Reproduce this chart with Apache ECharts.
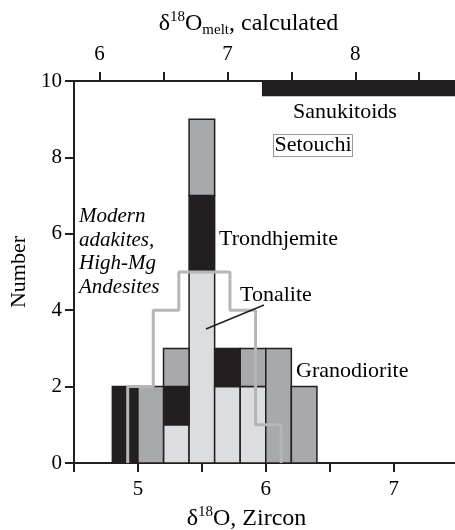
<!DOCTYPE html>
<html>
<head>
<meta charset="utf-8">
<script src="https://cdn.jsdelivr.net/npm/echarts@6.0.0/dist/echarts.min.js"></script>
<style>
  html, body { margin: 0; padding: 0; background: #fff; }
  #main { width: 455px; height: 530px; }
</style>
</head>
<body>
<div id="main"></div>
<script>
  // zircon histogram bins (0.2 wide), stacked: tonalite, trondhjemite, granodiorite
  const binStarts = [4.8, 5.0, 5.2, 5.4, 5.6, 5.8, 6.0, 6.2];
  const binWidth = 0.2;
  const tonalite = [0, 0, 1, 5, 2, 2, 0, 0];
  const trondhjemite = [2, 0, 1, 2, 1, 0, 0, 0];
  const granodiorite = [0, 2, 1, 2, 0, 1, 3, 2];

  // modern adakites / high-Mg andesites outline histogram
  const adakiteEdges = [4.92, 5.12, 5.32, 5.52, 5.72, 5.92, 6.12];
  const adakiteCounts = [2, 4, 5, 5, 4, 1];

  // sanukitoids range (melt scale) and its band height
  const sanukitoidMelt = [7.27, 8.78];
  const sanukitoidBand = [9.6, 10];

  const zirconTicks = [4.5, 5, 5.5, 6, 6.5, 7];
  const zirconLabels = [5, 6, 7];
  const meltTicks = [6, 6.5, 7, 7.5, 8, 8.5];
  const meltLabels = [6, 7, 8];

  const FONT = '"Liberation Serif", "DejaVu Serif", serif';
  const INK = '#231f20';

  // build stacked segments [x0, x1, y0, y1]
  const groups = [tonalite, trondhjemite, granodiorite];
  const base = binStarts.map(() => 0);
  const segs = groups.map(vals => {
    const out = [];
    vals.forEach((v, i) => {
      if (v > 0) out.push([binStarts[i], binStarts[i] + binWidth, base[i], base[i] + v]);
      base[i] += v;
    });
    return out;
  });

  const adakiteLine = [[adakiteEdges[0], 0]];
  adakiteCounts.forEach((c, i) => {
    adakiteLine.push([adakiteEdges[i], c]);
    adakiteLine.push([adakiteEdges[i + 1], c]);
  });
  adakiteLine.push([adakiteEdges[adakiteEdges.length - 1], 0]);

  function renderRect(params, api) {
    const p0 = api.coord([api.value(0), api.value(2)]);
    const p1 = api.coord([api.value(1), api.value(3)]);
    return {
      type: 'rect',
      shape: { x: p0[0], y: p1[1], width: p1[0] - p0[0], height: p0[1] - p1[1] },
      style: { fill: api.visual('color'), stroke: INK, lineWidth: 1.5 }
    };
  }

  const rich = {
    a: { fontFamily: FONT, fontSize: 24, color: '#000', lineHeight: 28 },
    sup: { fontFamily: FONT, fontSize: 15, color: '#000', lineHeight: 15, verticalAlign: 'top' },
    sub: { fontFamily: FONT, fontSize: 15, color: '#000', lineHeight: 15, verticalAlign: 'bottom' }
  };

  const axisCommon = {
    type: 'value',
    splitLine: { show: false },
    axisLine: { show: true, onZero: false, lineStyle: { color: INK, width: 2 } },
    axisTick: { show: true, inside: false, length: 9, lineStyle: { color: INK, width: 2 } },
    axisLabel: { fontFamily: FONT, fontSize: 21, color: '#000' }
  };

  const chart = echarts.init(document.getElementById('main'));
  chart.setOption({
    animation: false,
    grid: { left: 74, right: 0, top: 81, bottom: 67, outerBoundsMode: 'none' },
    xAxis: [
      Object.assign({}, axisCommon, {
        position: 'bottom', min: 4.5, max: 7.48,
        name: '{a|δ}{sup|18}{a|O, Zircon}',
        nameLocation: 'middle', nameGap: 41,
        nameTextStyle: { rich: rich, padding: [0, 36, 0, 0] },
        axisTick: Object.assign({}, axisCommon.axisTick, { customValues: zirconTicks }),
        axisLabel: Object.assign({}, axisCommon.axisLabel, { customValues: zirconLabels, margin: 16 })
      }),
      Object.assign({}, axisCommon, {
        position: 'top', min: 5.8, max: 8.78,
        name: '{a|δ}{sup|18}{a|O}{sub|melt}{a|, calculated}',
        nameLocation: 'middle', nameGap: 43,
        nameTextStyle: { rich: rich, padding: [0, 32, 0, 0] },
        axisTick: Object.assign({}, axisCommon.axisTick, { customValues: meltTicks }),
        axisLabel: Object.assign({}, axisCommon.axisLabel, { customValues: meltLabels, margin: 16 })
      })
    ],
    yAxis: Object.assign({}, axisCommon, {
      min: 0, max: 10, interval: 2,
      name: 'Number', nameLocation: 'middle', nameGap: 40,
      nameTextStyle: { fontFamily: FONT, fontSize: 22, color: '#000' },
      axisLabel: Object.assign({}, axisCommon.axisLabel, { margin: 12 })
    }),
    series: [
      { type: 'custom', name: 'Tonalite', color: '#dcddde', renderItem: renderRect,
        encode: { x: [0, 1], y: [2, 3] }, data: segs[0], z: 2 },
      { type: 'custom', name: 'Trondhjemite', color: INK, renderItem: renderRect,
        encode: { x: [0, 1], y: [2, 3] }, data: segs[1], z: 2 },
      { type: 'custom', name: 'Granodiorite', color: '#a7a9ac', renderItem: renderRect,
        encode: { x: [0, 1], y: [2, 3] }, data: segs[2], z: 2 },
      { type: 'line', name: 'Modern adakites', data: adakiteLine, symbol: 'none',
        lineStyle: { color: '#b4b6b8', width: 3 }, z: 3 },
      { type: 'custom', name: 'Sanukitoids', xAxisIndex: 1, color: INK,
        renderItem: function (params, api) {
          const p0 = api.coord([api.value(0), api.value(2)]);
          const p1 = api.coord([api.value(1), api.value(3)]);
          return { type: 'rect', shape: { x: p0[0], y: p1[1], width: p1[0] - p0[0], height: p0[1] - p1[1] },
            style: { fill: INK } };
        },
        encode: { x: [0, 1], y: [2, 3] },
        data: [[sanukitoidMelt[0], sanukitoidMelt[1], sanukitoidBand[0], sanukitoidBand[1]]], z: 2 }
    ],
    graphic: [
      { type: 'text', left: 293, top: 101, style: { text: 'Sanukitoids', font: '22px ' + FONT, fill: '#000' } },
      { type: 'text', left: 273, top: 134, style: { text: 'Setouchi', font: '22px ' + FONT, fill: '#000',
        borderColor: '#333', borderWidth: 1, borderDash: [1, 1], padding: [0, 1, 0, 1] } },
      { type: 'text', left: 219, top: 228, style: { text: 'Trondhjemite', font: '22px ' + FONT, fill: '#000' } },
      { type: 'text', left: 240, top: 284, style: { text: 'Tonalite', font: '22px ' + FONT, fill: '#000' } },
      { type: 'text', left: 296, top: 360, style: { text: 'Granodiorite', font: '22px ' + FONT, fill: '#000' } },
      { type: 'text', left: 79, top: 205, style: { text: 'Modern\nadakites,\nHigh-Mg\nAndesites',
        font: 'italic 21px ' + FONT, fill: '#000', lineHeight: 23.5 } },
      { type: 'line', shape: { x1: 206, y1: 329, x2: 264, y2: 305 }, style: { stroke: INK, lineWidth: 1.5 }, z: 10 }
    ]
  });
</script>
</body>
</html>
